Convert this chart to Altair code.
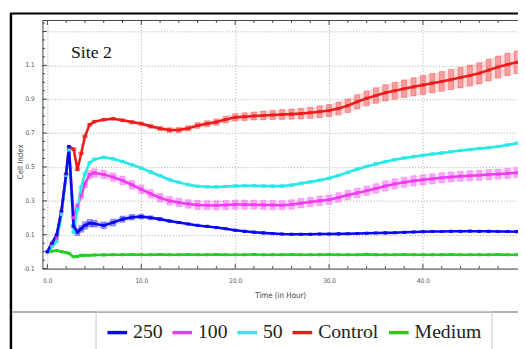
import altair as alt
import pandas as pd

# ---------------- data ----------------
hours = [0, 0.5, 1, 1.5, 2, 2.3, 2.8, 3.2, 3.6, 4, 4.5, 5,
         6, 7, 8, 9, 10, 11, 12, 13, 14, 15,
         16, 17, 18, 19, 20, 21, 22, 23, 24, 25,
         26, 27, 28, 29, 30, 31, 32, 33, 34, 35,
         36, 37, 38, 39, 40, 41, 42, 43, 44, 45,
         46, 47, 48, 49, 50]

s250 = [0.0, 0.05, 0.10, 0.24, 0.46, 0.62, 0.15, 0.115, 0.135, 0.155, 0.168, 0.165,
        0.155, 0.172, 0.192, 0.203, 0.207, 0.200, 0.192, 0.181, 0.172, 0.163,
        0.155, 0.149, 0.143, 0.135, 0.126, 0.120, 0.115, 0.111, 0.107, 0.104,
        0.103, 0.103, 0.103, 0.104, 0.104, 0.105, 0.106, 0.107, 0.109, 0.110,
        0.111, 0.112, 0.114, 0.116, 0.118, 0.119, 0.119, 0.120, 0.120, 0.121,
        0.120, 0.120, 0.119, 0.119, 0.118]

s100 = [0.0, 0.04, 0.08, 0.23, 0.45, 0.60, 0.20, 0.27, 0.33, 0.40, 0.455, 0.465,
        0.456, 0.440, 0.420, 0.395, 0.368, 0.342, 0.318, 0.300, 0.290, 0.282,
        0.276, 0.274, 0.273, 0.275, 0.278, 0.278, 0.277, 0.276, 0.275, 0.274,
        0.279, 0.286, 0.293, 0.300, 0.307, 0.320, 0.334, 0.347, 0.360, 0.373,
        0.388, 0.400, 0.410, 0.418, 0.424, 0.430, 0.436, 0.441, 0.445, 0.448,
        0.451, 0.455, 0.458, 0.462, 0.466]

s50 = [0.0, 0.03, 0.06, 0.22, 0.45, 0.60, 0.115, 0.25, 0.38, 0.46, 0.525, 0.545,
       0.557, 0.548, 0.532, 0.513, 0.493, 0.470, 0.448, 0.425, 0.409, 0.395,
       0.386, 0.383, 0.382, 0.385, 0.388, 0.389, 0.389, 0.388, 0.387, 0.387,
       0.393, 0.403, 0.412, 0.422, 0.433, 0.450, 0.468, 0.487, 0.503, 0.518,
       0.531, 0.543, 0.553, 0.561, 0.569, 0.576, 0.583, 0.590, 0.597, 0.603,
       0.609, 0.614, 0.621, 0.630, 0.640]

control = [0.0, 0.05, 0.10, 0.24, 0.46, 0.62, 0.605, 0.485, 0.58, 0.68, 0.75, 0.768,
           0.779, 0.785, 0.776, 0.765, 0.755, 0.740, 0.727, 0.718, 0.718, 0.728,
           0.745, 0.755, 0.765, 0.780, 0.793, 0.797, 0.801, 0.804, 0.807, 0.810,
           0.812, 0.815, 0.820, 0.826, 0.833, 0.845, 0.862, 0.885, 0.905, 0.922,
           0.938, 0.950, 0.962, 0.973, 0.984, 0.995, 1.005, 1.016, 1.028, 1.040,
           1.053, 1.072, 1.090, 1.105, 1.118]

medium = [0.0, 0.003, 0.007, 0.0, -0.005, -0.01, -0.03, -0.028, -0.022, -0.022, -0.021, -0.02,
          -0.019, -0.018, -0.018, -0.017, -0.018, -0.018, -0.017, -0.018, -0.018, -0.017,
          -0.018, -0.018, -0.017, -0.018, -0.018, -0.018, -0.017, -0.018, -0.018, -0.018,
          -0.017, -0.018, -0.018, -0.018, -0.017, -0.018, -0.018, -0.018, -0.016, -0.018,
          -0.018, -0.018, -0.017, -0.018, -0.018, -0.018, -0.018, -0.017, -0.018, -0.018,
          -0.018, -0.018, -0.017, -0.018, -0.018]

e250 = [0, 0, 0, 0, 0, 0, 0.010, 0.020, 0.020, 0.022, 0.022, 0.020,
        0.020, 0.020, 0.018, 0.016, 0.014, 0.012, 0.010, 0.008, 0.007, 0.006,
        0.005, 0.005, 0.005, 0.005, 0.005, 0.005, 0.005, 0.005, 0.005, 0.005,
        0.005, 0.005, 0.005, 0.005, 0.005, 0.005, 0.005, 0.005, 0.005, 0.005,
        0.005, 0.005, 0.005, 0.005, 0.005, 0.005, 0.005, 0.005, 0.005, 0.005,
        0.005, 0.005, 0.005, 0.005, 0.005]

e100 = [0, 0, 0, 0, 0, 0, 0.010, 0.015, 0.020, 0.022, 0.024, 0.025,
        0.025, 0.025, 0.025, 0.025, 0.025, 0.025, 0.025, 0.025, 0.025, 0.025,
        0.027, 0.027, 0.027, 0.027, 0.027, 0.027, 0.027, 0.027, 0.027, 0.027,
        0.028, 0.028, 0.028, 0.028, 0.028, 0.028, 0.028, 0.028, 0.028, 0.028,
        0.030, 0.030, 0.030, 0.030, 0.030, 0.030, 0.030, 0.030, 0.030, 0.030,
        0.030, 0.030, 0.030, 0.030, 0.030]

e50 = [0, 0, 0, 0, 0, 0, 0.008, 0.008, 0.008, 0.008, 0.008, 0.008,
       0.008, 0.008, 0.008, 0.008, 0.008, 0.008, 0.008, 0.008, 0.008, 0.008,
       0.008, 0.008, 0.008, 0.008, 0.008, 0.008, 0.008, 0.008, 0.008, 0.008,
       0.008, 0.008, 0.008, 0.008, 0.008, 0.008, 0.008, 0.008, 0.008, 0.008,
       0.008, 0.008, 0.008, 0.008, 0.008, 0.008, 0.008, 0.008, 0.008, 0.008,
       0.008, 0.008, 0.008, 0.008, 0.008]

econtrol = [0, 0, 0, 0, 0, 0, 0.008, 0.008, 0.008, 0.008, 0.008, 0.008,
            0.008, 0.008, 0.009, 0.010, 0.011, 0.012, 0.013, 0.014, 0.015, 0.016,
            0.017, 0.018, 0.019, 0.020, 0.022, 0.023, 0.024, 0.026, 0.027, 0.029,
            0.030, 0.032, 0.033, 0.035, 0.036, 0.038, 0.040, 0.042, 0.044, 0.046,
            0.048, 0.050, 0.052, 0.054, 0.056, 0.057, 0.058, 0.060, 0.061, 0.062,
            0.063, 0.064, 0.065, 0.066, 0.067]

emedium = [0, 0, 0, 0, 0, 0, 0.004, 0.004, 0.004, 0.004, 0.004, 0.004,
           0.004, 0.004, 0.004, 0.004, 0.004, 0.004, 0.004, 0.004, 0.004, 0.004,
           0.004, 0.004, 0.004, 0.004, 0.004, 0.004, 0.004, 0.004, 0.004, 0.004,
           0.004, 0.004, 0.004, 0.004, 0.004, 0.004, 0.004, 0.004, 0.004, 0.004,
           0.004, 0.004, 0.004, 0.004, 0.004, 0.004, 0.004, 0.004, 0.004, 0.004,
           0.004, 0.004, 0.004, 0.004, 0.004]

series_names = ["250", "100", "50", "Control", "Medium"]
series_colors = ["#0a0af0", "#f03cf0", "#2ae8e8", "#ec1c1c", "#20d020"]
draw_order = ["Medium", "Control", "100", "50", "250"]

x_major = [0, 10, 20, 30, 40]
x_minor = [2, 4, 6, 8, 12, 14, 16, 18, 22, 24, 26, 28, 32, 34, 36, 38, 42, 44, 46, 48]
y_major = [-0.1, 0.1, 0.3, 0.5, 0.7, 0.9, 1.1, 1.3]
y_labels = ["-0.1", "0.1", "0.3", "0.5", "0.7", "0.9", "1.1", ""]
y_minor = [-0.05, 0.0, 0.05, 0.15, 0.2, 0.25, 0.35, 0.4, 0.45, 0.55, 0.6, 0.65,
           0.75, 0.8, 0.85, 0.95, 1.0, 1.05, 1.15, 1.2, 1.25, 1.35]

# ---------------- table ----------------
vals = dict(zip(series_names, [s250, s100, s50, control, medium]))
errs = dict(zip(series_names, [e250, e100, e50, econtrol, emedium]))
col_of = dict(zip(series_names, series_colors))
rows = []
for name in draw_order:
    for t, v, e in zip(hours, vals[name], errs[name]):
        rows.append({"hours": t, "ci": v, "lo": v - e, "hi": v + e, "series": name})
df = pd.DataFrame(rows)

AX_FONT = "DejaVu Sans Condensed, Liberation Sans, sans-serif"

x_axis = alt.Axis(
    values=x_major, format=".1f", labelOverlap=False,
    grid=True, gridColor="#a8a8a8", gridDash=[1, 2], gridWidth=1,
    ticks=False, domainColor="#444",
    labelFont=AX_FONT, labelFontSize=6.5, labelColor="#555", labelPadding=9,
    title="Time (in Hour)", titleFont=AX_FONT, titleFontSize=8, titleColor="#444",
    titleFontWeight="normal", titlePadding=8,
)
y_axis = alt.Axis(
    values=y_major, labels=False,
    grid=True, gridColor="#a8a8a8", gridDash=[1, 2], gridWidth=1,
    ticks=False, domainColor="#444",
    title="Cell Index", titleFont=AX_FONT, titleFontSize=8, titleColor="#444",
    titleFontWeight="normal", titleX=-22, titleY=143, titleAngle=270,
    titleAlign="center", titleBaseline="middle",
)

xs = alt.Scale(domain=[0, 49.6], nice=False, zero=False)
ys = alt.Scale(domain=[-0.1, 1.365], nice=False, zero=False)
X = alt.X("hours:Q", scale=xs, axis=x_axis)
Y = alt.Y("ci:Q", scale=ys, axis=y_axis)
YLO = alt.Y("lo:Q", scale=ys, axis=y_axis)
color_scale = alt.Scale(domain=series_names, range=series_colors)

legend = alt.Legend(
    title=None, orient="none", legendX=54, legendY=295, direction="horizontal",
    symbolType="stroke", symbolStrokeWidth=3.5, symbolSize=400,
    labelFont="Liberation Serif", labelFontSize=20, labelColor="#222",
    labelOffset=4, columnPadding=3, padding=10, strokeColor="#c8c8c8",
)

base = alt.Chart(df)

err_layers = []
point_layers = []
for name in draw_order:
    c = col_of[name]
    sub = base.transform_filter(alt.datum.series == name)
    err_layers.append(sub.mark_area(color=c, opacity=0.15, clip=True).encode(
        x=X, y=YLO, y2="hi:Q"))
    err_layers.append(sub.mark_bar(width=5, color=c, fillOpacity=0.32, stroke=c,
                                   strokeOpacity=0.45, strokeWidth=0.7, clip=True).encode(
        x=X, y=YLO, y2="hi:Q"))
    point_layers.append(sub.mark_square(size=10, color=c, opacity=1, clip=True).encode(
        x=X, y=Y))

lines = base.mark_line(strokeWidth=2.6, clip=True).encode(
    x=X, y=Y,
    stroke=alt.Stroke("series:N", scale=color_scale, legend=legend),
    order="hours:Q",
)

one = pd.DataFrame({"k": [0]})
left_bar = alt.Chart(one).mark_rule(color="#000", strokeWidth=2.5).encode(
    x=alt.value(-32), y=alt.value(-7), y2=alt.value(340))
top_bar = alt.Chart(one).mark_rule(color="#000", strokeWidth=2).encode(
    x=alt.value(-33), x2=alt.value(490), y=alt.value(-7))
bottom_line = alt.Chart(one).mark_rule(color="#9a9a9a", strokeWidth=1.5).encode(
    x=alt.value(-31), x2=alt.value(490), y=alt.value(296))
top_axis = alt.Chart(one).mark_rule(color="#444", strokeWidth=1).encode(
    x=alt.value(0), x2=alt.value(490), y=alt.value(0))

xmaj_df = pd.DataFrame({"hours": x_major})
xmin_df = pd.DataFrame({"hours": x_minor})
ymaj_df = pd.DataFrame({"ci": y_major, "label": y_labels})
ymin_df = pd.DataFrame({"ci": y_minor})
tick_layers = [
    alt.Chart(xmaj_df).mark_rule(color="#444").encode(x=X, y=alt.value(0), y2=alt.value(4.5)),
    alt.Chart(xmin_df).mark_rule(color="#444").encode(x=X, y=alt.value(0), y2=alt.value(2.5)),
    alt.Chart(xmaj_df).mark_rule(color="#444").encode(x=X, y=alt.value(252), y2=alt.value(247.5)),
    alt.Chart(xmin_df).mark_rule(color="#444").encode(x=X, y=alt.value(252), y2=alt.value(249.5)),
    alt.Chart(ymaj_df).mark_rule(color="#444").encode(y=Y, x=alt.value(0), x2=alt.value(4.5)),
    alt.Chart(ymin_df).mark_rule(color="#444").encode(y=Y, x=alt.value(0), x2=alt.value(2.5)),
    alt.Chart(ymaj_df).mark_text(font=AX_FONT, fontSize=6.5, color="#555", align="right",
                                 baseline="middle").encode(y=Y, x=alt.value(-8), text="label:N"),
]

site = alt.Chart(one).mark_text(
    font="Liberation Serif", fontSize=18, color="#111", align="left", baseline="alphabetic"
).encode(x=alt.value(29), y=alt.value(38), text=alt.value("Site 2"))

chart = alt.layer(
    left_bar, top_bar, bottom_line, top_axis, *tick_layers,
    *err_layers, lines, *point_layers, site,
).properties(
    width=483, height=252,
    autosize=alt.AutoSizeParams(type="none"),
    padding={"left": 35, "top": 10, "right": 0, "bottom": 79},
    background="white",
).configure_view(stroke=None)

chart.save("out.html", embed_options={"renderer": "svg", "actions": False})
